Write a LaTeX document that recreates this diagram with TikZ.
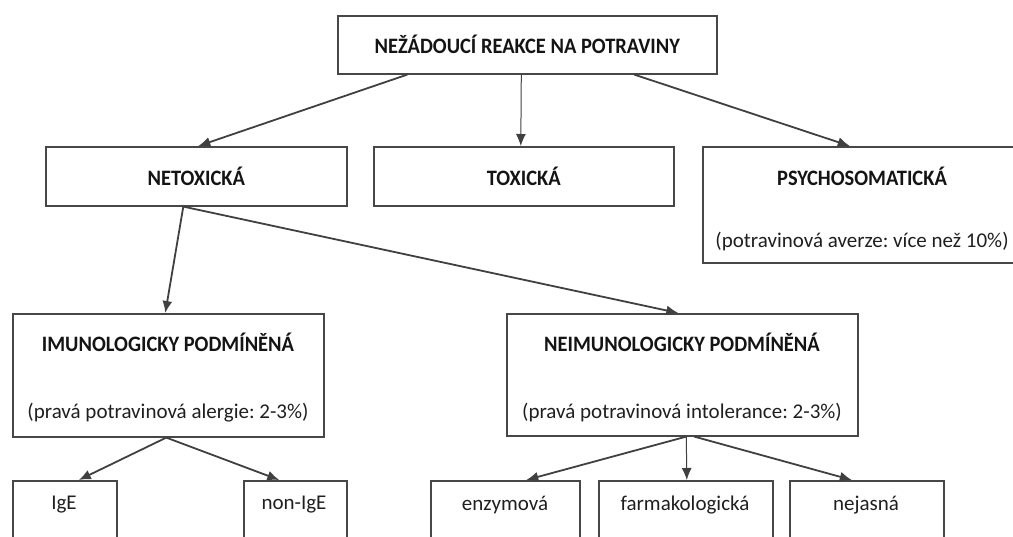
\documentclass[tikz,border=0pt]{standalone}
\usepackage{fontspec}
\setmainfont{Carlito}[BoldFeatures={FakeStretch=0.93}]
\usetikzlibrary{arrows.meta}
\frenchspacing
\tikzset{
  box/.style={draw=black!72, line width=1.6pt, rectangle, anchor=north west, inner sep=0pt, text=black!92},
  arr/.style={-{Latex[length=12pt,width=10pt]}, draw=black!75, line width=1.8pt},
  thinarr/.style={arr, line width=1pt},
  head/.style={font=\bfseries\fontsize{22}{26}\selectfont, text=black!92},
  sub/.style={font=\fontsize{21}{24}\selectfont, text=black!88},
}
\begin{document}
\begin{tikzpicture}[x=1pt,y=-1pt]
  \clip (0,0) rectangle (1013,536);
  % horni uroven
  \node[box, head, minimum width=379pt, minimum height=58pt] (reakce) at (337,15) {NEŽÁDOUCÍ REAKCE NA POTRAVINY};
  % druha uroven
  \node[box, head, minimum width=301pt, minimum height=59pt] (netox) at (45,146) {NETOXICKÁ};
  \node[box, head, minimum width=300pt, minimum height=59pt] (tox) at (373,146) {TOXICKÁ};
  \node[box, minimum width=320pt, minimum height=116pt] (psycho) at (702,146) {};
  \node[head] (psychoT) at (862,176) {PSYCHOSOMATICKÁ};
  \node[sub] (psychoS) at (862,242) {(potravinová averze: více než 10\%)};
  % treti uroven
  \node[box, minimum width=311pt, minimum height=123pt] (imuno) at (12,313) {};
  \node[head] (imunoT) at (168,342) {IMUNOLOGICKY PODMÍNĚNÁ};
  \node[sub] (imunoS) at (168,413) {(pravá potravinová alergie: 2-3\%)};
  \node[box, minimum width=351pt, minimum height=122pt] (neimuno) at (506,313) {};
  \node[head] (neimunoT) at (682,342) {NEIMUNOLOGICKY PODMÍNĚNÁ};
  \node[sub] (neimunoS) at (682,413) {(pravá potravinová intolerance: 2-3\%)};
  % ctvrta uroven (orizla)
  \node[box, minimum width=104pt, minimum height=80pt] (ige) at (12,480) {};
  \node[box, minimum width=103pt, minimum height=80pt] (nonige) at (243,480) {};
  \node[box, minimum width=149pt, minimum height=80pt] (enzym) at (430,480) {};
  \node[box, minimum width=174pt, minimum height=80pt] (farmak) at (598,480) {};
  \node[box, minimum width=154pt, minimum height=80pt] (nejasna) at (789,480) {};
  \node[sub] (igeT) at (64,505) {IgE};
  \node[sub] (nonigeT) at (294,505) {non-IgE};
  \node[sub] (enzymT) at (505,505) {enzymová};
  \node[sub] (farmakT) at (685,505) {farmakologická};
  \node[sub] (nejasnaT) at (866,505) {nejasná};
  % sipky
  \draw[arr] ([xshift=-120pt]reakce.south) -- ([xshift=2pt]netox.north);
  \draw[thinarr] ([xshift=-6pt]reakce.south) -- ([xshift=-3pt]tox.north);
  \draw[arr] ([xshift=107pt]reakce.south) -- ([xshift=-13pt]psycho.north);
  \draw[arr] ([xshift=-13pt]netox.south) -- ([xshift=-3pt]imuno.north);
  \draw[arr] ([xshift=-13pt]netox.south) -- ([xshift=-4pt]neimuno.north);
  \draw[arr] ([xshift=-2pt]imuno.south) -- ([xshift=14pt]ige.north);
  \draw[arr] ([xshift=-2pt]imuno.south) -- ([xshift=-16pt]nonige.north);
  \draw[arr] ([xshift=4pt]neimuno.south) -- ([xshift=21pt]enzym.north);
  \draw[thinarr] ([xshift=4pt]neimuno.south) -- ([xshift=1pt]farmak.north);
  \draw[arr] ([xshift=12pt]neimuno.south) -- ([xshift=-15pt]nejasna.north);
\end{tikzpicture}
\end{document}
